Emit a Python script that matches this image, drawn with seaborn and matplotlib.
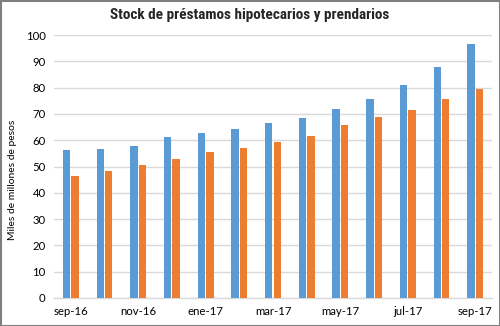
import matplotlib
matplotlib.use("Agg")
import matplotlib.pyplot as plt
import seaborn as sns
import pandas as pd
from matplotlib.patches import Rectangle
from matplotlib import font_manager

months = ["sep-16", "oct-16", "nov-16", "dic-16", "ene-17", "feb-17", "mar-17",
          "abr-17", "may-17", "jun-17", "jul-17", "ago-17", "sep-17"]
hipotecarios = [56.2, 56.7, 57.9, 61.1, 62.9, 64.1, 66.5, 68.6, 72.0, 75.7, 80.9, 87.8, 96.7]
prendarios = [46.4, 48.3, 50.6, 52.9, 55.6, 57.1, 59.4, 61.7, 65.8, 68.9, 71.5, 75.5, 79.4]
series_names = ["Hipotecarios", "Prendarios"]
shown_ticks = ["sep-16", "nov-16", "ene-17", "mar-17", "may-17", "jul-17", "sep-17"]
yticks = list(range(0, 101, 10))

df = pd.DataFrame({
    "mes": months * 2,
    "serie": [series_names[0]] * len(months) + [series_names[1]] * len(months),
    "valor": hipotecarios + prendarios,
})

sns.set_theme(style="white")
names = {f.name for f in font_manager.fontManager.ttflist}
base_font = "Lato" if "Lato" in names else "DejaVu Sans"
plt.rcParams["font.family"] = [base_font, "DejaVu Sans"]
narrow = [n for n in ["Liberation Sans Narrow", "Roboto Condensed", "Open Sans Condensed"]
          if n in names]
title_family = narrow + ["DejaVu Sans"]

fig = plt.figure(figsize=(5.0, 3.26), dpi=100)
ax = fig.add_axes([0.108, 0.0859, 0.876, 0.8067])

sns.barplot(data=df, x="mes", y="valor", hue="serie", order=months,
            hue_order=series_names, palette=["#5B9BD5", "#ED7D31"],
            saturation=1, width=0.5, gap=0.12, legend=False, ax=ax, zorder=3,
            edgecolor="none")

ax.set_ylim(0, 100)
ax.set_xlim(-0.5, len(months) - 0.5)
ax.set_yticks(yticks)
ax.set_yticklabels([str(v) for v in yticks], fontsize=8.2, color="#000000")
ax.set_xticks([months.index(m) for m in shown_ticks])
ax.set_xticklabels(shown_ticks, fontsize=8.2, color="#000000")
ax.tick_params(axis="both", length=0, pad=6)
ax.grid(axis="y", color="#D9D9D9", linewidth=1.0, zorder=0)
ax.set_axisbelow(True)
for s in ["top", "right", "left"]:
    ax.spines[s].set_visible(False)
ax.spines["bottom"].set_color("#D9D9D9")
ax.spines["bottom"].set_linewidth(1.0)
ax.set_xlabel("")
ax.set_ylabel("Miles de millones de pesos", fontsize=7.4, color="#000000")
ax.yaxis.set_label_coords(-0.094, 0.449)
ax.yaxis.label.set_verticalalignment("center")

fig.text(0.5, 0.953, "Stock de préstamos hipotecarios y prendarios",
         ha="center", va="center", fontsize=11, fontweight="heavy",
         fontstretch="condensed", family=title_family)

fig.patches.append(Rectangle((0.001, 0.001), 0.998, 0.997, transform=fig.transFigure,
                             fill=False, edgecolor="#7F7F7F", linewidth=1.5))

fig.savefig("out.png", dpi=100, facecolor="white")
